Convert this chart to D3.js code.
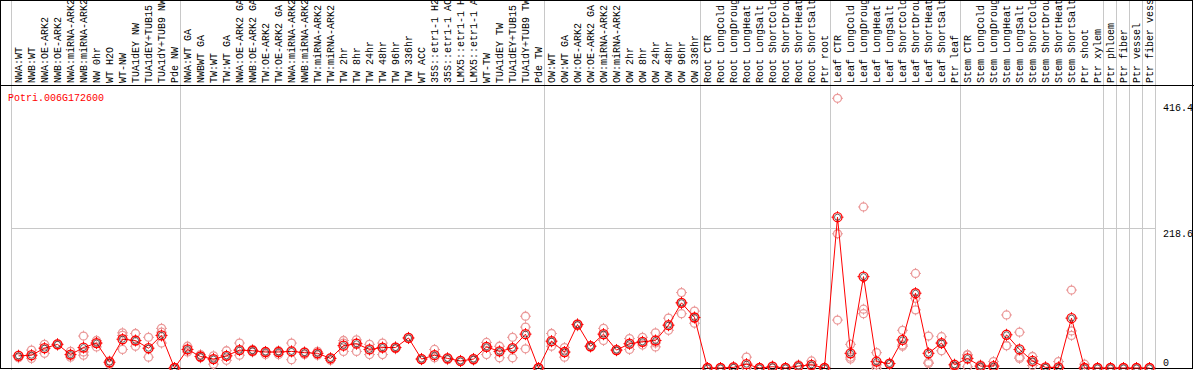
<html>
<head>
<meta charset="utf-8">
<script src="https://d3js.org/d3.v7.min.js"></script>
<style>
body { margin:0; background:#fff; }
svg text { font-family: "Liberation Mono", "DejaVu Sans Mono", monospace; font-size:10px; }
</style>
</head>
<body>
<div id="chart"></div>
<script>

var gene = "Potri.006G172600";

var samples = ["NWA:WT","NWB:WT","NWA:OE-ARK2","NWB:OE-ARK2","NWA:miRNA-ARK2","NWB:miRNA-ARK2","NW 0hr","WT H2O","WT-NW","TUA1dEY NW","TUA1dEY+TUB15","TUA1dY+TUB9 NW","Pde NW",
  "NWA:WT GA","NWBWT GA","TW:WT","TW:WT GA","NWA:OE-ARK2 GA","NWB:OE-ARK2 GA","TW:OE-ARK2","TW:OE-ARK2 GA","NWA:miRNA-ARK2","NWB:miRNA-ARK2","TW:miRNA-ARK2","TW:miRNA-ARK2","TW 2hr","TW 8hr","TW 24hr","TW 48hr","TW 96hr","TW 336hr","WT ACC","35S::etr1-1 H2","35S::etr1-1 AC","LMX5::etr1-1 H","LMX5::etr1-1 A","WT-TW","TUA1dEY TW","TUA1dEY+TUB15","TUA1dY+TUB9 TW","Pde TW",
  "OW:WT","OW:WT GA","OW:OE-ARK2","OW:OE-ARK2 GA","OW:miRNA-ARK2","OW:miRNA-ARK2","OW 2hr","OW 8hr","OW 24hr","OW 48hr","OW 96hr","OW 336hr",
  "Root CTR","Root LongCold","Root LongDroug","Root LongHeat","Root LongSalt","Root ShortCold","Root ShortDrou","Root ShortHeat","Root ShortSalt","Ptr root",
  "Leaf CTR","Leaf LongCold","Leaf LongDroug","Leaf LongHeat","Leaf LongSalt","Leaf ShortCold","Leaf ShortDrou","Leaf ShortHeat","Leaf ShortSalt","Ptr leaf",
  "Stem CTR","Stem LongCold","Stem LongDroug","Stem LongHeat","Stem LongSalt","Stem ShortCold","Stem ShortDrou","Stem ShortHeat","Stem ShortSalt","Ptr shoot","Ptr xylem",
  "Ptr phloem","Ptr fiber","Ptr vessel","Ptr fiber vess"];

// sample index where each group starts (last = end)
var groupStarts = [0, 13, 41, 53, 63, 73, 84, 85, 86, 87, 88];

// mean expression
var mean = [19,20,31,37,21,32,39,9,45,43,31,51,0,
  29,18,14,19,28,27,25,25,26,24,23,15,35,38,29,32,32,47,14,20,15,11,14,33,26,31,53,0,
  42,25,68,34,53,28,38,41,43,67,102,79,
  0,0,1,6,0,2,0,3,5,0,
  236,23,143,10,7,44,117,23,39,5,
  15,3,3,52,29,11,1,1,78,0,0,
  0,0,0,0];

// replicates
var rep1 = [20,28,37,37,26,50,43,11,55,54,48,62,0,
  34,21,19,27,39,29,26,27,39,25,26,16,43,44,37,39,33,48,15,29,16,12,15,40,34,48,81,0,
  54,32,68,35,62,29,46,48,55,78,118,89,
  0,0,2,17,0,3,0,5,11,0,
  422,37,252,24,7,59,148,50,49,6,
  21,5,10,83,56,18,1,10,122,6,0,
  0,0,0,0];
var rep2 = [17,15,23,36,21,25,39,7,51,43,30,56,0,
  25,16,14,19,28,27,25,25,26,24,23,15,39,39,29,32,32,47,14,20,15,11,14,33,26,31,64,0,
  41,24,69,34,52,28,37,41,39,67,102,79,
  0,0,1,1,0,2,0,3,3,0,
  210,17,92,5,7,36,109,9,27,3,
  20,2,0,35,17,9,0,0,58,0,0,
  0,0,0,0];
var rep3 = [16,19,30,38,17,20,33,6,29,34,17,39,0,
  29,18,6,12,20,25,21,21,13,21,20,12,26,26,21,21,30,46,13,16,13,10,12,21,16,16,30,0,
  34,17,66,33,43,27,29,36,33,59,85,70,
  0,0,0,0,0,0,0,2,2,0,
  75,14,85,0,6,34,91,7,39,1,
  2,0,0,35,15,4,0,0,51,0,0,
  0,0,0,0];

var yTicks = [0, 218.6, 416.4];

var W = 1194, H = 370;

var svg = d3.select("#chart").append("svg")
    .attr("width", W)
    .attr("height", H);

var x = d3.scaleBand()
    .domain(d3.range(samples.length))
    .range([11, 11 + 13 * samples.length])
    .padding(0);

var y = d3.scaleLinear()
    .domain([0, 218.6])
    .range([368, 228.3]);

var cx = function(i) { return x(i) + x.bandwidth() / 2 + 1; };

// horizontal grid at middle tick
svg.append("line")
    .attr("x1", x.range()[0]).attr("x2", x.range()[1])
    .attr("y1", Math.round(y(218.6)) + 0.5).attr("y2", Math.round(y(218.6)) + 0.5)
    .attr("stroke", "#c8c8c8");

// group separators
svg.selectAll(".sep")
  .data(groupStarts)
  .enter().append("line")
    .attr("class", "sep")
    .attr("x1", function(d) { return (d < samples.length ? x(d) : x.range()[1]) + 0.5; })
    .attr("x2", function(d) { return (d < samples.length ? x(d) : x.range()[1]) + 0.5; })
    .attr("y1", 0).attr("y2", H)
    .attr("stroke", "#c8c8c8");

// sample labels
svg.selectAll(".lab")
  .data(samples)
  .enter().append("text")
    .attr("class", "lab")
    .attr("transform", function(d, i) { return "translate(" + (cx(i) + 3) + ",83) rotate(-90)"; })
    .attr("fill", "#000")
    .text(function(d) { return d; });

// frame
svg.append("rect")
    .attr("x", 0.5).attr("y", 0.5)
    .attr("width", 1192).attr("height", 368)
    .attr("fill", "none").attr("stroke", "#000");
svg.append("line")
    .attr("x1", 0).attr("x2", W)
    .attr("y1", 85.5).attr("y2", 85.5)
    .attr("stroke", "#000");

// gene name
svg.append("text")
    .attr("x", 8).attr("y", 101)
    .attr("fill", "#f00")
    .text(gene);

// y tick labels
svg.selectAll(".ytick")
  .data(yTicks)
  .enter().append("text")
    .attr("class", "ytick")
    .attr("x", 1163)
    .attr("y", function(d) { return d === 0 ? 366 : y(d) + 9; })
    .text(function(d) { return d; });

// markers: circle with small spokes
function marker(sel, color, r) {
  sel.append("circle")
    .attr("r", r)
    .attr("fill", "none")
    .attr("stroke", color)
    .attr("stroke-width", 1.3);
  sel.append("path")
    .attr("d", "M0," + (-r - 1.5) + "V" + (r + 1.5) + "M" + (-r - 1.5) + ",0H" + (r + 1.5))
    .attr("stroke", color)
    .attr("stroke-width", 1)
    .attr("stroke-dasharray", "2," + (2 * r - 1));
}

var reps = [rep1, rep2, rep3];
reps.forEach(function(rep) {
  var g = svg.append("g").selectAll("g")
    .data(rep)
    .enter().append("g")
      .attr("transform", function(d, i) { return "translate(" + cx(i) + "," + y(d) + ")"; });
  marker(g, "#eb9a9a", 4);
});

// mean line
svg.append("path")
    .datum(mean)
    .attr("fill", "none")
    .attr("stroke", "#f00")
    .attr("stroke-width", 1)
    .attr("d", d3.line()
      .x(function(d, i) { return cx(i); })
      .y(function(d) { return y(d); }));

var gm = svg.append("g").selectAll("g")
  .data(mean)
  .enter().append("g")
    .attr("transform", function(d, i) { return "translate(" + cx(i) + "," + y(d) + ")"; });
marker(gm, "#f00", 4.5);
gm.append("circle")
    .attr("r", 3)
    .attr("fill", "none")
    .attr("stroke", "#000")
    .attr("stroke-width", 0.6);

</script>
</body>
</html>
